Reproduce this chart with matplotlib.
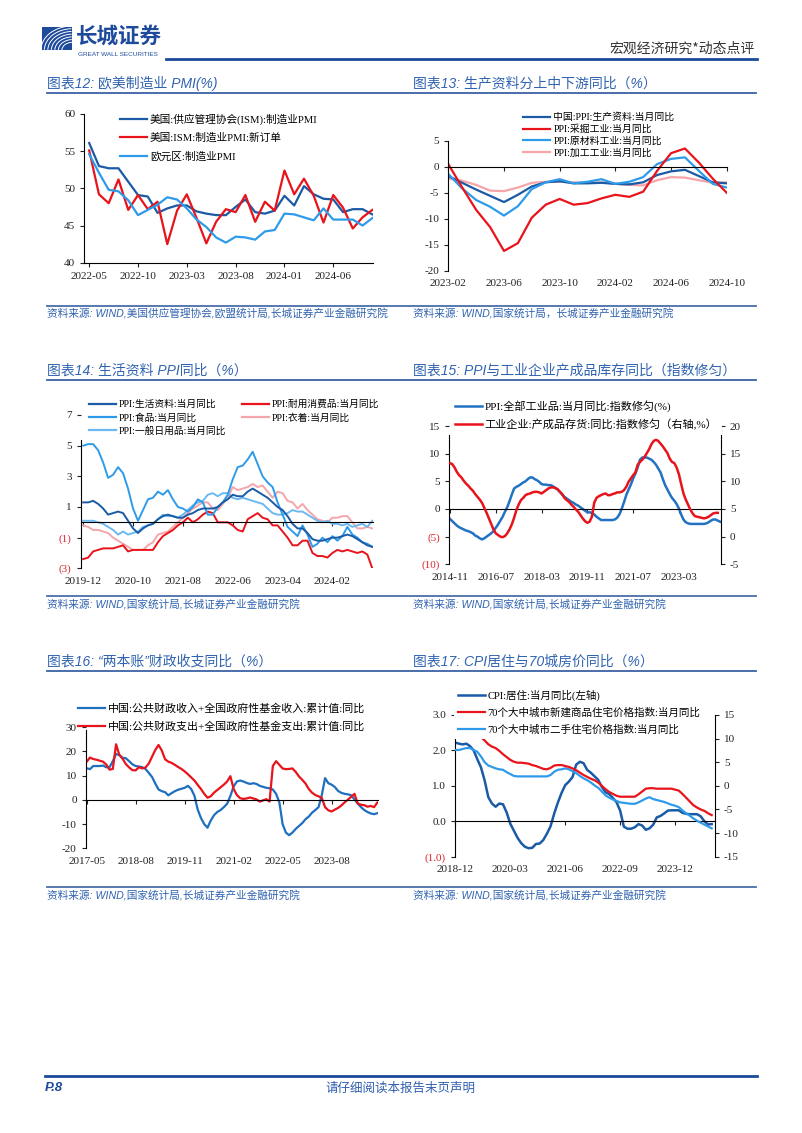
import numpy as np
import pandas as pd
import matplotlib
matplotlib.use("Agg")
import matplotlib.pyplot as plt
from matplotlib.lines import Line2D
from matplotlib.patches import Rectangle, Arc

plt.rcParams['font.family'] = ['Liberation Serif', 'Noto Sans CJK SC']
plt.rcParams['axes.unicode_minus'] = False
plt.rcParams['axes.linewidth'] = 0.8

# ---------------- data ----------------
# 图表12 (2022-05 .. 2024-10)
months12 = pd.period_range('2022-05', '2024-10', freq='M').strftime('%Y-%m').tolist()
ism_pmi = [56.1, 53.0, 52.7, 52.7, 50.9, 49.1, 48.9, 46.7, 47.3, 47.7,
           47.7, 46.9, 46.6, 46.4, 46.4, 47.5, 48.5, 46.8, 46.6, 47.0,
           49.0, 47.7, 50.3, 49.2, 48.6, 48.5, 46.8, 47.2, 47.2, 46.5]
ism_new_orders = [55.1, 49.2, 48.0, 51.2, 47.1, 49.1, 47.2, 48.2, 42.5, 47.0,
                  49.2, 46.0, 42.6, 45.5, 47.2, 46.8, 49.1, 45.5, 48.2, 47.0,
                  52.4, 49.2, 51.3, 49.0, 45.4, 49.1, 47.4, 44.6, 46.1, 47.1]
ez_pmi = [54.6, 52.1, 49.8, 49.6, 48.4, 46.4, 47.1, 47.8, 48.8, 48.5,
          47.3, 45.8, 44.8, 43.4, 42.7, 43.5, 43.4, 43.1, 44.2, 44.4,
          46.6, 46.5, 46.1, 45.7, 47.3, 45.8, 45.8, 45.8, 45.0, 46.0]

# 图表13 (2023-02 .. 2024-10)
months13 = pd.period_range('2023-02', '2024-10', freq='M').strftime('%Y-%m').tolist()
ppi_capital = [-1.8, -3.1, -4.4, -5.6, -6.8, -5.4, -3.8, -3.0, -2.8, -3.2,
               -3.2, -3.1, -3.3, -3.4, -3.0, -1.6, -0.9, -0.6, -1.8, -3.0, -3.2]
ppi_mining = [0.5, -4.0, -8.3, -11.6, -16.2, -14.7, -9.8, -7.3, -6.2, -7.3,
              -7.0, -6.1, -5.4, -5.8, -4.8, -0.8, 2.6, 3.5, 0.8, -2.3, -5.0]
ppi_raw = [-1.4, -4.2, -6.4, -7.7, -9.4, -7.6, -4.3, -3.0, -2.4, -3.2,
           -2.9, -2.4, -3.3, -2.9, -2.0, 0.5, 1.5, 1.8, -0.8, -3.3, -4.0]
ppi_processing = [-2.3, -2.7, -3.5, -4.6, -4.7, -4.0, -3.1, -2.9, -2.9, -3.0,
                  -3.1, -3.0, -3.3, -3.5, -3.6, -2.6, -2.0, -2.1, -2.6, -3.1, -3.0]

# 图表14 (2019-12 .. 2024-10)
months14 = pd.period_range('2019-12', '2024-10', freq='M').strftime('%Y-%m').tolist()
ppi_consumer = [1.3, 1.3, 1.4, 1.2, 0.9, 0.5, 0.6, 0.7, 0.6, 0.1,
                -0.4, -0.7, -0.4, -0.2, -0.1, 0.2, 0.4, 0.5, 0.4, 0.3,
                0.3, 0.5, 0.6, 0.8, 0.9, 0.9, 0.9, 1.0, 1.3, 1.5,
                1.8, 1.7, 1.7, 2.0, 2.2, 2.0, 1.8, 1.6, 1.3, 1.0,
                0.8, 0.4, -0.1, -0.4, -0.4, -0.7, -1.1, -1.2, -1.2, -1.1,
                -1.0, -1.0, -0.9, -0.8, -0.9, -1.1, -1.3, -1.5, -1.6]
ppi_food = [5.0, 5.1, 5.1, 4.7, 3.9, 2.9, 3.1, 3.6, 3.2, 2.2,
            0.9, 0.1, 0.8, 1.5, 1.6, 2.0, 1.8, 2.1, 1.5, 1.0,
            0.9, 0.7, 1.0, 1.5, 1.3, 0.5, 0.5, 1.0, 1.3, 1.8,
            2.8, 3.6, 3.7, 4.1, 4.6, 3.8, 3.0, 2.6, 2.3, 1.3,
            0.5, -0.3, -0.6, -0.9, -0.2, -0.8, -1.6, -1.4, -1.0, -1.3,
            -0.9, -1.2, -0.9, -0.3, -0.8, -1.0, -1.3, -1.4, -1.6]
ppi_durable = [-2.4, -2.3, -1.9, -1.8, -1.7, -1.7, -1.7, -1.6, -1.5, -1.9,
               -1.8, -1.8, -1.8, -1.8, -1.8, -1.3, -0.9, -0.7, -0.5, -0.2,
               0.0, 0.3, 0.0, 0.2, 0.5, 0.7, 0.6, 0.0, 0.0, 0.0,
               -0.2, -0.5, -0.6, 0.2, 0.4, 0.6, 0.3, 0.2, -0.2, -0.2,
               -0.6, -1.0, -1.5, -1.5, -1.2, -1.2, -2.0, -2.2, -2.2, -2.3,
               -2.0, -1.8, -1.9, -1.8, -1.9, -2.0, -1.9, -2.1, -3.0]
ppi_clothing = [-0.2, -0.3, -0.5, -0.5, -0.6, -0.7, -1.0, -1.2, -1.4, -1.6,
                -1.8, -1.8, -1.8, -1.5, -1.3, -0.8, -0.7, -0.6, -0.3, 0.0,
                0.3, 0.6, 0.9, 1.1, 1.3, 1.3, 0.9, 0.8, 1.2, 1.6,
                2.3, 2.1, 2.2, 2.3, 2.5, 2.3, 2.4, 2.0, 1.6, 2.0,
                1.9, 1.4, 1.3, 0.9, 1.2, 0.8, 0.5, 0.2, 0.1, 0.0,
                0.3, 0.3, 0.4, 0.4, 0.0, -0.4, -0.4, -0.3, -0.4]
ppi_daily = [0.1, 0.1, 0.1, 0.0, -0.1, -0.3, -0.5, -0.8, -0.6, -0.8,
             -0.7, -0.6, -0.3, -0.2, -0.1, 0.2, 0.5, 0.4, 0.4, 0.3,
             0.5, 0.8, 1.1, 1.3, 1.4, 1.8, 1.9, 1.7, 1.9, 1.9,
             1.6, 1.5, 1.6, 1.5, 1.4, 1.3, 1.2, 0.9, 0.6, 0.5,
             0.5, 0.6, 0.8, 0.7, 0.7, 0.5, 0.3, 0.1, 0.0, 0.1,
             -0.1, -0.1, -0.2, -0.1, -0.3, -0.2, -0.1, -0.3, 0.1]

# 图表15 (2014-11 .. )
months15 = pd.period_range('2014-11', '2024-09', freq='M').strftime('%Y-%m').tolist()
ppi_smooth = [-1.8, -2.2, -2.6, -3.0, -3.3, -3.5, -3.7, -3.9, -4.0, -4.2,
              -4.4, -4.8, -5.0, -5.3, -5.5, -5.3, -5.0, -4.7, -4.4, -4.0,
              -3.4, -2.8, -2.1, -1.4, -0.5, 0.3, 1.4, 2.6, 3.7, 4.0,
              4.2, 4.5, 4.8, 5.0, 5.4, 5.7, 5.7, 5.4, 5.2, 4.9,
              4.5, 4.4, 4.4, 4.3, 4.3, 4.1, 3.8, 3.5, 3.1, 2.6,
              2.2, 1.9, 1.6, 1.3, 1.1, 0.8, 0.6, 0.3, 0.0, -0.3,
              -0.6, -0.6, -0.7, -1.0, -1.4, -1.7, -2.0, -2.0, -2.0, -2.0,
              -2.0, -2.0, -1.9, -1.6, -1.0, 0.0, 1.2, 2.5, 3.5, 4.4,
              5.5, 6.4, 7.5, 8.9, 9.3, 9.3, 9.3, 9.1, 8.9, 8.5,
              8.0, 7.3, 6.6, 5.4, 4.3, 3.5, 2.7, 2.0, 1.5, 0.9,
              0.1, -1.0, -1.9, -2.4, -2.6, -2.7, -2.7, -2.7, -2.7, -2.7,
              -2.7, -2.7, -2.6, -2.4, -2.1, -1.9, -1.9, -2.1, -2.3]
inventory_smooth = [13.3, 13.1, 12.5, 11.7, 11.1, 10.7, 10.1, 9.6, 9.2, 8.7,
                    8.3, 7.7, 7.2, 6.7, 6.1, 5.2, 4.3, 3.3, 2.3, 1.3,
                    0.6, 0.3, 0.0, -0.1, 0.1, 0.6, 1.3, 2.2, 3.4, 4.8,
                    5.8, 6.6, 7.0, 7.5, 7.7, 7.8, 8.0, 8.1, 8.1, 8.0,
                    7.8, 8.1, 8.4, 8.7, 8.9, 8.9, 8.8, 8.6, 8.1, 7.7,
                    7.0, 6.6, 6.3, 5.8, 5.4, 4.9, 4.5, 3.9, 3.3, 2.8,
                    2.5, 2.7, 3.6, 6.1, 7.0, 7.3, 7.5, 7.7, 7.8, 7.5,
                    7.5, 7.7, 7.8, 8.0, 8.0, 8.1, 8.4, 9.0, 9.9, 10.5,
                    11.1, 11.6, 13.0, 13.5, 13.9, 14.4, 15.1, 15.8, 16.7, 17.3,
                    17.5, 17.3, 16.8, 16.3, 15.7, 15.1, 14.1, 13.5, 13.3, 12.5,
                    11.3, 9.5, 7.8, 6.7, 5.8, 4.9, 4.2, 3.7, 3.6, 3.5,
                    3.4, 3.3, 3.4, 3.6, 3.9, 4.2, 4.3, 4.3]

# 图表16 (2017-05 .. 2024-10)
months16 = pd.period_range('2017-05', '2024-10', freq='M').strftime('%Y-%m').tolist()
fiscal_income = [13.1, 12.7, 14.0, 14.0, 14.0, 14.2, 13.5, 13.5, 16.0, 19.0,
                 18.5, 17.4, 17.2, 16.0, 14.7, 14.0, 13.8, 13.5, 12.8, 11.2,
                 9.5, 6.8, 4.3, 3.6, 3.2, 1.9, 2.8, 3.6, 4.2, 4.6,
                 5.0, 5.8, 4.5, 1.7, -4.0, -7.5, -10.0, -11.5, -8.5, -6.3,
                 -5.0, -4.2, -3.0, -1.6, 1.6, 5.6, 7.6, 8.0, 7.6, 7.0,
                 6.6, 6.9, 6.6, 5.8, 5.4, 5.0, 4.8, 4.3, 2.5, -1.0,
                 -10.0, -13.5, -14.6, -13.5, -12.0, -10.8, -9.6, -8.0, -6.9, -5.3,
                 -4.2, -3.0, 2.0, 9.0, 6.9, 6.3, 5.3, 3.7, 2.9, 2.5,
                 2.3, 1.9, 0.2, -1.5, -3.0, -4.2, -5.0, -5.6, -5.9, -5.5]
fiscal_spend = [15.8, 17.5, 16.9, 16.6, 16.2, 15.8, 14.6, 12.5, 12.8, 23.0,
                18.6, 17.0, 14.8, 13.4, 12.3, 12.2, 13.5, 13.0, 13.4, 15.0,
                17.8, 20.6, 22.7, 20.4, 16.8, 15.8, 15.3, 14.5, 13.6, 12.8,
                11.8, 10.6, 9.3, 8.0, 6.2, 4.5, 2.5, 0.9, 1.5, 3.0,
                4.1, 5.2, 6.3, 7.6, 9.8, 4.5, 2.0, 0.7, 0.4, 0.6,
                1.0, 0.6, 0.2, -0.7, -0.2, 0.3, -0.7, 14.0, 16.0, 14.5,
                13.0, 12.7, 12.8, 13.0, 11.6, 9.7, 8.3, 6.8, 4.5, 3.0,
                2.0, 1.5, 0.8, -3.0, -4.3, -4.8, -4.0, -3.3, -2.3, -1.0,
                0.1, 1.3, 2.5, -1.5, -2.0, -2.2, -2.8, -2.5, -3.0, -1.1]

# 图表17 (2018-12 .. 2024-10)
months17 = pd.period_range('2018-12', '2024-10', freq='M').strftime('%Y-%m').tolist()
cpi_housing = [2.22, 2.19, 2.17, 2.19, 2.12, 2.00, 1.75, 1.52, 1.15, 0.68,
               0.50, 0.41, 0.50, 0.48, 0.25, -0.07, -0.27, -0.47, -0.62, -0.72,
               -0.76, -0.75, -0.64, -0.63, -0.53, -0.35, -0.14, 0.22, 0.53, 0.80,
               1.02, 1.12, 1.25, 1.60, 1.68, 1.64, 1.45, 1.37, 1.27, 1.17,
               0.97, 0.82, 0.77, 0.66, 0.54, 0.30, -0.15, -0.21, -0.21, -0.17,
               -0.08, -0.12, -0.24, -0.20, -0.10, 0.11, 0.15, 0.22, 0.30, 0.31,
               0.31, 0.31, 0.24, 0.21, 0.20, 0.20, 0.20, 0.14, 0.00, -0.09, -0.08]
new_home = [10.6, 11.0, 11.2, 11.0, 10.8, 10.7, 10.6, 10.3, 9.6, 8.8,
            8.3, 8.0, 7.4, 6.7, 6.1, 5.5, 5.1, 4.9, 4.9, 4.8,
            4.7, 4.4, 4.2, 3.9, 3.6, 3.5, 3.8, 4.3, 4.4, 4.4,
            4.2, 4.0, 3.7, 3.3, 2.8, 2.3, 1.9, 1.5, 1.2, 0.7,
            0.0, -0.7, -1.3, -1.7, -2.1, -2.3, -2.3, -2.3, -2.3, -2.3,
            -1.8, -1.2, -0.6, -0.5, -0.5, -0.6, -0.6, -0.6, -0.6, -0.6,
            -0.8, -1.0, -1.7, -2.5, -3.3, -4.1, -4.6, -5.0, -5.3, -5.8, -6.2]
second_home = [7.6, 7.6, 7.8, 8.0, 8.0, 7.6, 7.2, 6.2, 5.0, 4.3,
               4.0, 3.7, 3.5, 3.4, 2.9, 2.5, 2.1, 2.0, 2.0, 2.0,
               2.0, 2.0, 2.0, 2.0, 2.0, 2.0, 2.3, 3.0, 3.4, 3.5,
               3.7, 3.5, 3.1, 2.7, 2.1, 1.6, 1.2, 0.7, 0.1, -0.4,
               -1.2, -2.0, -2.5, -2.9, -3.2, -3.5, -3.6, -3.7, -3.8, -3.8,
               -3.5, -3.1, -2.7, -2.4, -2.8, -3.0, -3.2, -3.4, -3.7, -4.0,
               -4.2, -4.5, -5.2, -5.8, -6.3, -6.9, -7.4, -7.8, -8.2, -8.6, -9.0]

# ---------------- style ----------------
NAVY = '#1B5BA5'
RED = '#E8131B'
SKY = '#2E9BEA'
PINK = '#F4A6AB'
PALE = '#6CB9F2'
NEG = '#D7262E'
TITLE_C = '#3063B0'
HEAD_C = '#1D4A9B'
LW = 1.6

W, H = 802, 1133
fig = plt.figure(figsize=(W / 100, H / 100), dpi=100)


def ax_at(x0, y0, x1, y1):
    return fig.add_axes([x0 / W, 1 - y1 / H, (x1 - x0) / W, (y1 - y0) / H])


def ftext(x, y, s, **kw):
    return fig.text(x / W, 1 - y / H, s, **kw)


def fline(x0, x1, y, color, lw):
    fig.add_artist(Line2D([x0 / W, x1 / W], [1 - y / H, 1 - y / H],
                          transform=fig.transFigure, color=color, lw=lw))


def base(ax):
    for s in ['top', 'right']:
        ax.spines[s].set_visible(False)
    ax.tick_params(labelsize=8, length=3, width=0.8, direction='out',
                   color='#222222', labelcolor='#222222')


def set_yt(ax, ticks, fmt='{:g}', paren=False):
    ax.set_yticks(ticks)
    labs = []
    for t in ticks:
        if paren and t < 0:
            labs.append('(' + fmt.format(-t) + ')')
        else:
            labs.append(fmt.format(t))
    ax.set_yticklabels(labs)
    if paren:
        for t, lab in zip(ticks, ax.get_yticklabels()):
            if t < 0:
                lab.set_color(NEG)


def set_xt(ax, labels, step):
    idx = np.arange(0, len(labels), step)
    ax.set_xticks(idx)
    ax.set_xticklabels([labels[i] for i in idx])


def zero_xaxis(ax, ymin, ymax, h_px):
    ax.spines['bottom'].set_position(('data', 0))
    frac = -ymin / (ymax - ymin)
    ax.tick_params(axis='x', pad=frac * h_px * 0.72 + 3)


def legend_at(ax, handles, labels, size, x_hand, y_row1, hand_px, gap_px, row_px,
              ncol=1, colsp=1.0, frame=True):
    fs = size * 100 / 72
    bp = 0.4
    th = 1.05
    return ax.legend(handles, labels, loc='upper left', ncol=ncol,
                     bbox_to_anchor=((x_hand - bp * fs) / W,
                                     1 - (y_row1 - (bp + th / 2) * fs) / H),
                     bbox_transform=fig.transFigure, borderaxespad=0, borderpad=bp,
                     prop={'size': size}, handlelength=hand_px / fs,
                     handletextpad=gap_px / fs, labelspacing=row_px / fs - th,
                     columnspacing=colsp, frameon=frame, fancybox=False,
                     facecolor='white', edgecolor='none', framealpha=1)


def h(c, lw=LW):
    return Line2D([0], [0], color=c, lw=lw)


# ---------------- page header / footer ----------------
lax = ax_at(41.7, 26.7, 71.7, 50)
lax.set_xlim(0, 1)
lax.set_ylim(0, 1)
lax.axis('off')
lax.add_patch(Rectangle((0, 0), 1, 1, color=HEAD_C))
for r in np.linspace(0.35, 1.05, 7):
    lax.add_patch(Arc((1.02, -0.02), 2 * r, 2 * r, theta1=92, theta2=178,
                      color='white', lw=0.7))
ftext(76, 36, '长城证券', size=15.5, weight='bold', color=HEAD_C, va='center',
      family=['Noto Sans CJK SC'])
ftext(77.5, 54, 'GREAT WALL SECURITIES', size=4.6, color=HEAD_C, va='center',
      family=['Liberation Sans'])
fline(166, 757, 59, HEAD_C, 2.0)
ftext(755, 48.3, '宏观经济研究*动态点评', size=10, color='#333333', ha='right',
      va='center', family=['Noto Sans CJK SC'])

fline(45, 757, 1076, HEAD_C, 2.0)
ftext(45, 1088, 'P.8', size=9.5, weight='bold', style='italic', color=HEAD_C,
      va='center', family=['Liberation Sans'])
ftext(401, 1088, '请仔细阅读本报告末页声明', size=9, color='#2F5FAF', ha='center',
      va='center', family=['Noto Sans CJK SC'])

# titles, rules and sources
TFAM = ['Liberation Sans', 'Noto Sans CJK SC']
titles = [('图表12: 欧美制造业 PMI(%)', '图表13: 生产资料分上中下游同比（%）'),
          ('图表14: 生活资料 PPI同比（%）', '图表15: PPI与工业企业产成品库存同比（指数修匀）'),
          ('图表16: “两本账”财政收支同比（%）', '图表17: CPI居住与70城房价同比（%）')]
sources = [('资料来源: WIND,美国供应管理协会,欧盟统计局,长城证券产业金融研究院',
            '资料来源: WIND,国家统计局，长城证券产业金融研究院'),
           ('资料来源: WIND,国家统计局,长城证券产业金融研究院',
            '资料来源: WIND,国家统计局,长城证券产业金融研究院'),
           ('资料来源: WIND,国家统计局,长城证券产业金融研究院',
            '资料来源: WIND,国家统计局,长城证券产业金融研究院')]
title_y = [83.7, 370.5, 661.5]
src_y = [314, 604.5, 895.5]
for (tl, tr), (sl, sr), ty, sy in zip(titles, sources, title_y, src_y):
    ftext(47, ty, tl, size=10, style='italic', color=TITLE_C, va='center', family=TFAM)
    ftext(413, ty, tr, size=10, style='italic', color=TITLE_C, va='center', family=TFAM)
    fline(47, 756, ty + 9, '#3B62A6', 1.3)
    fline(47, 756, sy - 8.3, '#4A6EA8', 1.3)
    ftext(47, sy, sl, size=7.7, style='italic', color='#3063B0', va='center', family=TFAM)
    ftext(413, sy, sr, size=7.7, style='italic', color='#3063B0', va='center', family=TFAM)

# ---------------- 图表12 ----------------
ax = ax_at(84.3, 114, 373.3, 262.7)
base(ax)
x = np.arange(len(months12))
ax.plot(x, ism_pmi, color=NAVY, lw=LW)
ax.plot(x, ism_new_orders, color=RED, lw=LW)
ax.plot(x, ez_pmi, color=SKY, lw=LW)
ax.set_xlim(-0.5, 29.1)
ax.set_ylim(40, 60)
set_yt(ax, [40, 45, 50, 55, 60])
set_xt(ax, months12, 5)
legend_at(ax, [h(NAVY), h(RED), h(SKY)],
          ['美国:供应管理协会(ISM):制造业PMI', '美国:ISM:制造业PMI:新订单', '欧元区:制造业PMI'],
          7.7, 120, 119.3, 26.7, 3.3, 19)

# ---------------- 图表13 ----------------
ax = ax_at(448.3, 140.7, 726.7, 270.7)
base(ax)
x = np.arange(len(months13))
ax.plot(x, ppi_processing, color=PINK, lw=LW)
ax.plot(x, ppi_capital, color=NAVY, lw=LW)
ax.plot(x, ppi_raw, color=SKY, lw=LW)
ax.plot(x, ppi_mining, color=RED, lw=LW)
ax.set_xlim(0, 20)
ax.set_ylim(-20, 5)
set_yt(ax, [-20, -15, -10, -5, 0, 5])
set_xt(ax, months13, 4)
zero_xaxis(ax, -20, 5, 130)
legend_at(ax, [h(NAVY), h(RED), h(SKY), h(PINK)],
          ['中国:PPI:生产资料:当月同比', 'PPI:采掘工业:当月同比',
           'PPI:原材料工业:当月同比', 'PPI:加工工业:当月同比'],
          7.1, 523.3, 117.7, 26.7, 3.3, 12.8, frame=False)

# ---------------- 图表14 ----------------
ax = ax_at(80.7, 415, 373.3, 568.3)
base(ax)
x = np.arange(len(months14))
ax.plot(x, ppi_clothing, color=PINK, lw=1.4)
ax.plot(x, ppi_daily, color=PALE, lw=1.4)
ax.plot(x, ppi_durable, color=RED, lw=1.4)
ax.plot(x, ppi_food, color=SKY, lw=1.4)
ax.plot(x, ppi_consumer, color=NAVY, lw=1.4)
ax.set_xlim(-0.5, 58.2)
ax.set_ylim(-3, 7)
set_yt(ax, [-3, -1, 1, 3, 5, 7], paren=True)
set_xt(ax, months14, 10)
zero_xaxis(ax, -3, 7, 153.3)
ax.spines['left'].set_bounds(-3, 5.4)
legend_at(ax, [h(NAVY), h(SKY), h(PALE), h(RED), h(PINK)],
          ['PPI:生活资料:当月同比', 'PPI:食品:当月同比', 'PPI:一般日用品:当月同比',
           'PPI:耐用消费品:当月同比', 'PPI:衣着:当月同比'],
          7.0, 89.3, 405, 26.7, 2.3, 14, ncol=2, colsp=1.7)

# ---------------- 图表15 ----------------
ax = ax_at(449.3, 426, 721, 564.3)
base(ax)
ax2 = ax.twinx()
for s in ['top', 'left', 'bottom']:
    ax2.spines[s].set_visible(False)
ax2.tick_params(labelsize=8, length=3, width=0.8, direction='out',
                color='#222222', labelcolor='#222222')
x = np.arange(len(months15))
ax.plot(x, ppi_smooth, color='#2272C3', lw=1.8)
ax2.plot(x[:len(inventory_smooth)], inventory_smooth, color=RED, lw=1.8)
ax.set_xlim(-0.3, 118.4)
ax.set_ylim(-10, 15)
ax2.set_ylim(-5, 20)
set_yt(ax, [-10, -5, 0, 5, 10, 15], paren=True)
set_yt(ax2, [-5, 0, 5, 10, 15, 20])
set_xt(ax, months15, 20)
zero_xaxis(ax, -10, 15, 138.3)
ax.spines['left'].set_bounds(-10, 13.4)
legend_at(ax2, [h('#2272C3', 1.8), h(RED, 1.8)],
          ['PPI:全部工业品:当月同比:指数修匀(%)', '工业企业:产成品存货:同比:指数修匀（右轴,%）'],
          8.0, 455, 405.7, 26.7, 2.7, 18.6)

# ---------------- 图表16 ----------------
ax = ax_at(85.7, 727.3, 378.3, 848.3)
base(ax)
x = np.arange(len(months16))
ax.plot(x, fiscal_income, color='#1F6FBF', lw=LW)
ax.plot(x, fiscal_spend, color=RED, lw=LW)
ax.set_xlim(-0.3, 89.3)
ax.set_ylim(-20, 30)
set_yt(ax, [-20, -10, 0, 10, 20, 30])
set_xt(ax, months16, 15)
zero_xaxis(ax, -20, 30, 121)
ax.spines['left'].set_bounds(-20, 28.9)
legend_at(ax, [h('#1F6FBF'), h(RED)],
          ['中国:公共财政收入+全国政府性基金收入:累计值:同比',
           '中国:公共财政支出+全国政府性基金支出:累计值:同比'],
          7.9, 78.3, 709.3, 26.7, 3.3, 19, frame=False)

# ---------------- 图表17 ----------------
ax = ax_at(455, 715, 715, 856.7)
base(ax)
ax2 = ax.twinx()
for s in ['top', 'left', 'bottom']:
    ax2.spines[s].set_visible(False)
ax2.tick_params(labelsize=8, length=3, width=0.8, direction='out',
                color='#222222', labelcolor='#222222')
x = np.arange(len(months17))
ax.plot(x, cpi_housing, color=NAVY, lw=1.8)
ax2.plot(x, second_home, color=SKY, lw=1.6)
ax2.plot(x, new_home, color=RED, lw=1.6)
ax.set_xlim(-0.1, 70.9)
ax.set_ylim(-1, 3)
ax2.set_ylim(-15, 15)
set_yt(ax, [-1, 0, 1, 2, 3], fmt='{:.1f}', paren=True)
set_yt(ax2, [-15, -10, -5, 0, 5, 10, 15])
set_xt(ax, months17, 15)
zero_xaxis(ax, -1, 3, 141.7)
ax.spines['left'].set_bounds(-1, 2.33)
legend_at(ax2, [h(NAVY, 1.8), h(RED), h(SKY)],
          ['CPI:居住:当月同比(左轴)', '70个大中城市新建商品住宅价格指数:当月同比',
           '70个大中城市二手住宅价格指数:当月同比'],
          7.6, 458.3, 695, 26.7, 2.7, 17.8)

plt.savefig('out.png', dpi=100)
